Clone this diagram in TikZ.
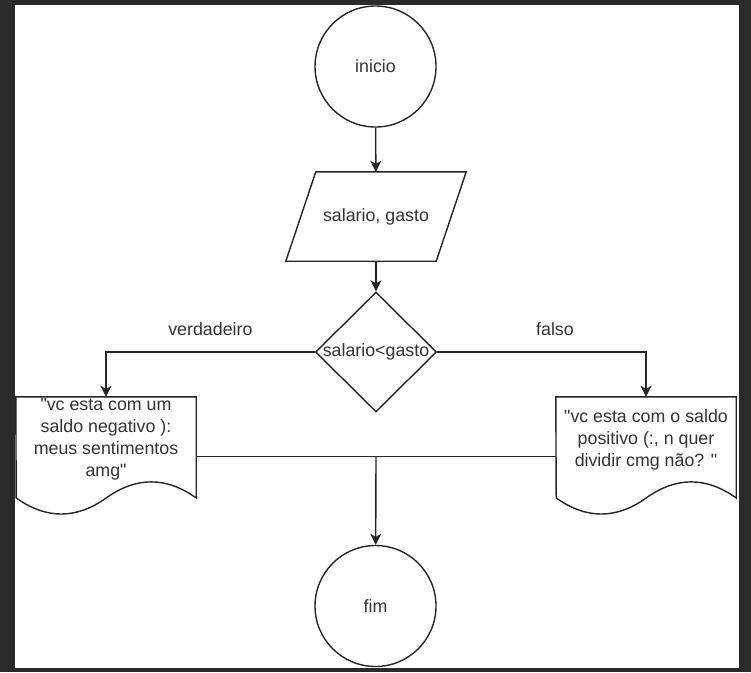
\documentclass[tikz,border=0pt]{standalone}
\usepackage{fontspec}
\setmainfont{Liberation Sans}[Ligatures=TeXOff]
\usetikzlibrary{arrows.meta,shapes.geometric,calc}
\definecolor{ink}{HTML}{262626}
\definecolor{txt}{HTML}{333333}
\definecolor{backdrop}{HTML}{2A2A2A}

% Document symbol: flat top, straight sides, wavy bottom edge
\newcommand\docoutline[1]{%
  \draw[outline] (#1.north west) -- (#1.north east) -- ++(0,101.15)
    .. controls +(-30,-21.42) and +(30,-21.42) .. ++(-90,0)
    .. controls +(-30,21.42) and +(30,21.42) .. ++(-90,0) -- cycle;}

\begin{document}
\begin{tikzpicture}[x=1pt,y=-1pt,
  font=\fontsize{17.8pt}{22pt}\selectfont,
  every node/.style={text=txt},
  outline/.style={draw=ink, line width=1.4pt},
  terminal/.style={outline, circle, minimum size=121pt, inner sep=0pt},
  box/.style={inner sep=0pt},
  flow/.style={draw=ink, line width=1.4pt, -{Stealth[length=11pt,width=11pt,inset=3pt]}},
  link/.style={draw=ink, line width=1.4pt},
  branchlabel/.style={inner sep=0pt},
  doctext/.style={align=center, inner sep=0pt}
]
\useasboundingbox (0,0) rectangle (751,672);
\fill[backdrop] (0,0) rectangle (751,672);
\fill[white] (15,5) rectangle (739,668);

% start / end
\node[terminal] (inicio) at (375.5,66.5) {inicio};
\node[terminal] (fim) at (375.5,606) {fim};

% input
\node[box, minimum width=180pt, minimum height=89pt] (entrada) at (376,216.5) {salario, gasto};
\draw[outline] ($(entrada.north west)+(30,0)$) -- (entrada.north east)
  -- ($(entrada.south east)+(-30,0)$) -- (entrada.south west) -- cycle;

% decision
\node[outline, diamond, minimum width=121pt, minimum height=120pt, inner sep=0pt] (dec) at (376,352) {};
\node[box] (dectxt) at (dec.center) {salario<gasto};

% outputs
\node[box, minimum width=180pt, minimum height=119pt] (docneg) at (106,456.5) {};
\docoutline{docneg}
\node[doctext] (negtxt) at (106,439) {"vc esta com um\\saldo negativo ):\\meus sentimentos\\amg"};

\node[box, minimum width=180pt, minimum height=119pt] (docpos) at (646,456.5) {};
\docoutline{docpos}
\node[doctext] (postxt) at (646,440) {"vc esta com o saldo\\positivo (:, n quer\\dividir cmg não? "};

% connectors
\draw[flow] (inicio) -- (entrada);
\draw[flow] (entrada) -- (dec);
\draw[flow] (dec.west) -| node[branchlabel, pos=0.25, yshift=23pt] (lbltrue) {verdadeiro} (docneg.north);
\draw[flow] (dec.east) -| node[branchlabel, pos=0.282, yshift=23pt] (lblfalse) {falso} (docpos.north);
\coordinate (merge) at ($(docneg.east)!0.5!(docpos.west)$);
\draw[link] (docneg.east) -- (docpos.west);
\draw[flow] (merge) -- (fim);
\end{tikzpicture}
\end{document}
